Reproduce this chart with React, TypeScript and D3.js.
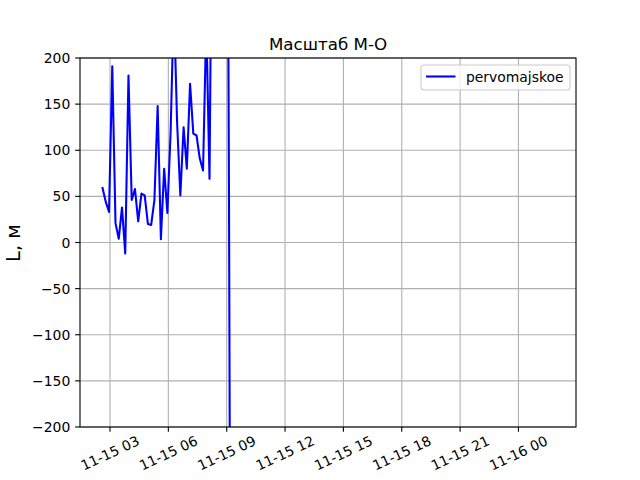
import React from "react";
import * as d3 from "d3";

const seriesName = "pervomajskoe";
const startTime = "2021-11-15T02:37:00Z";
const stepMinutes = 10;
const values = [
  59, 44, 33, 191, 21, 4, 38, -12, 181, 46,
  58, 23, 53, 51, 20, 19, 46, 148, 3.5, 80,
  32, 120, 260, 130, 51, 125, 80, 172, 118, 116,
  91, 78, 239, 69, 500, 600, 800, 700, 900, 60,
  -1070,
];
const tailTimes = [
  "2021-11-15T10:00:00Z",
  "2021-11-15T14:00:00Z",
  "2021-11-15T18:00:00Z",
  "2021-11-15T22:00:00Z",
  "2021-11-16T01:48:00Z",
];
const tailValues = [-1800, -2400, -2100, -2600, -2300];
const yTicks = [-200, -150, -100, -50, 0, 50, 100, 150, 200];
const title = "Масштаб М-О";
const yLabel = "L, м";

const W = 640, H = 480;
const L = 80, R = 576, T = 58, B = 427;
const FONT = "DejaVu Sans, sans-serif";

export default function App() {
  const t0 = new Date(startTime).getTime();
  const data: { t: Date; v: number }[] = values.map((v, i) => ({
    t: new Date(t0 + i * stepMinutes * 60000),
    v,
  }));
  tailTimes.forEach((s, i) => data.push({ t: new Date(s), v: tailValues[i] }));

  const [tMin, tMax] = d3.extent(data, (d) => d.t.getTime()) as [number, number];
  const pad = (tMax - tMin) * 0.05;
  const x = d3.scaleUtc().domain([new Date(tMin - pad), new Date(tMax + pad)]).range([L, R]);
  const y = d3.scaleLinear().domain([-200, 200]).range([B, T]);

  const xTicks = d3.utcHour.every(3)!.range(x.domain()[0], x.domain()[1]);
  const fmt = d3.utcFormat("%m-%d %H");

  const line = d3
    .line<{ t: Date; v: number }>()
    .x((d) => x(d.t))
    .y((d) => y(d.v));

  const tickLen = 4.86;
  return (
    <svg width={W} height={H} style={{ display: "block", position: "absolute", left: 0, top: 0 }} fontFamily={FONT}>
      <rect x={0} y={0} width={W} height={H} fill="#fff" />
      <defs>
        <clipPath id="plotclip">
          <rect x={L} y={T} width={R - L} height={B - T} />
        </clipPath>
      </defs>
      {/* grid */}
      {xTicks.map((t, i) => (
        <line key={"gx" + i} x1={x(t)} x2={x(t)} y1={T} y2={B} stroke="#b0b0b0" strokeWidth={1.1} />
      ))}
      {yTicks.map((v, i) => (
        <line key={"gy" + i} x1={L} x2={R} y1={y(v)} y2={y(v)} stroke="#b0b0b0" strokeWidth={1.1} />
      ))}
      {/* data */}
      <path
        d={line(data) || ""}
        fill="none"
        stroke="#0000ff"
        strokeWidth={2.08}
        strokeLinejoin="round"
        strokeLinecap="square"
        clipPath="url(#plotclip)"
      />
      {/* spines */}
      <rect x={L} y={T} width={R - L} height={B - T} fill="none" stroke="#000" strokeWidth={1.1} />
      {/* x ticks */}
      {xTicks.map((t, i) => (
        <g key={"tx" + i}>
          <line x1={x(t)} x2={x(t)} y1={B} y2={B + tickLen} stroke="#000" strokeWidth={1.1} />
          <text
            transform={`translate(${x(t)},${B + 26}) rotate(-25)`}
            textAnchor="middle"
            dominantBaseline="central"
            fontSize={13.9}
            fill="#000"
          >
            {fmt(t)}
          </text>
        </g>
      ))}
      {/* y ticks */}
      {yTicks.map((v, i) => (
        <g key={"ty" + i}>
          <line x1={L - tickLen} x2={L} y1={y(v)} y2={y(v)} stroke="#000" strokeWidth={1.1} />
          <text x={L - 2 * tickLen} y={y(v)} textAnchor="end" dominantBaseline="central" fontSize={13.9} fill="#000">
            {v < 0 ? "\u2212" + Math.abs(v) : String(v)}
          </text>
        </g>
      ))}
      {/* title */}
      <text x={(L + R) / 2} y={49.5} textAnchor="middle" fontSize={16.7} fill="#000">
        {title}
      </text>
      {/* y label */}
      <text transform={`translate(20,243) rotate(-90)`} textAnchor="middle" fontSize={19.4} fill="#000">
        {yLabel}
      </text>
      {/* legend */}
      <g>
        <rect x={421} y={65} width={149} height={25} rx={3} fill="#fff" fillOpacity={0.8} stroke="#cccccc" strokeWidth={1.1} />
        <line x1={426} x2={455.5} y1={76.5} y2={76.5} stroke="#0000ff" strokeWidth={2.08} />
        <text x={466} y={81.5} fontSize={13.9} fill="#000">
          {seriesName}
        </text>
      </g>
    </svg>
  );
}
